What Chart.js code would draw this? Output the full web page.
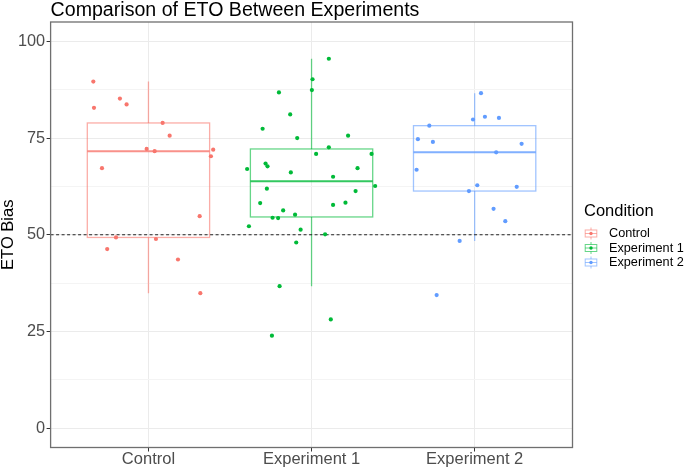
<!DOCTYPE html>
<html><head><meta charset="utf-8">
<script src="https://cdn.jsdelivr.net/npm/chart.js@4.4.0/dist/chart.umd.min.js"></script>
<style>html,body{margin:0;padding:0;background:#fff;}#wrap{width:685px;height:469px;position:relative;}</style>
</head><body><div id="wrap"><canvas id="c" width="685" height="469"></canvas></div>
<script>
// ---- data ----
const categories = ['Control', 'Experiment 1', 'Experiment 2'];
const controlValues = [89.6, 85.2, 83.7, 82.8, 78.9, 75.6, 72.2, 71.6, 72.0, 70.3, 67.2, 54.8, 49.3, 48.9, 46.3, 43.6, 34.9];
const controlJitter = [-0.338, -0.175, -0.134, -0.334, 0.087, 0.130, -0.011, 0.038, 0.397, 0.383, -0.285, 0.314, -0.199, 0.046, -0.253, 0.181, 0.318];
const exp1Values = [95.5, 90.2, 87.4, 86.8, 81.1, 77.4, 75.0, 75.6, 72.6, 70.9, 70.9, 68.4, 67.7, 67.0, 67.2, 66.1, 65.0, 62.6, 61.9, 61.3, 58.2, 58.3, 57.7, 56.3, 55.2, 54.4, 54.3, 52.2, 51.3, 50.1, 48.0, 36.7, 28.1, 23.9];
const exp1Jitter = [0.106, 0.006, 0.002, -0.200, -0.131, -0.300, -0.088, 0.224, 0.106, 0.028, 0.368, -0.282, -0.270, -0.395, 0.282, -0.127, 0.132, 0.390, -0.274, 0.270, -0.315, 0.208, 0.132, -0.174, -0.101, -0.239, -0.205, -0.384, -0.067, 0.083, -0.094, -0.196, 0.118, -0.243];
const exp2Values = [86.6, 80.5, 80.2, 79.8, 78.2, 74.7, 74.0, 73.5, 71.3, 66.8, 62.8, 62.4, 61.3, 56.7, 53.5, 48.4, 34.4];
const exp2Jitter = [0.039, 0.063, 0.149, -0.010, -0.278, -0.348, -0.256, 0.288, 0.132, -0.356, 0.016, 0.258, -0.035, 0.116, 0.188, -0.092, -0.233];
const yTickValues = [0, 25, 50, 75, 100];
const yMinorTickValues = [12.5, 37.5, 62.5, 87.5];
const referenceLine = 50;
const chartTitle = 'Comparison of ETO Between Experiments';
const yAxisTitle = 'ETO Bias';
const legendTitle = 'Condition';

// ---- styles ----
const colors = ['#F8766D', '#00BA38', '#619CFF'];
const boxLine = ['rgba(248,118,109,0.6)', 'rgba(0,186,56,0.6)', 'rgba(97,156,255,0.6)'];
const medLine = ['rgba(248,118,109,0.8)', 'rgba(0,186,56,0.8)', 'rgba(97,156,255,0.8)'];
const FONT = '"Liberation Sans", Arial, sans-serif';

const groups = [controlValues, exp1Values, exp2Values];
const jitters = [controlJitter, exp1Jitter, exp2Jitter];

function quantile(s, p) {
  const h = (s.length - 1) * p, lo = Math.floor(h);
  const hiV = lo + 1 < s.length ? s[lo + 1] : s[lo];
  return s[lo] + (h - lo) * (hiV - s[lo]);
}
function boxStats(vals) {
  const s = [...vals].sort((a, b) => a - b);
  const q1 = quantile(s, 0.25), med = quantile(s, 0.5), q3 = quantile(s, 0.75);
  const iqr = q3 - q1;
  const lo = s.find(v => v >= q1 - 1.5 * iqr);
  const hi = [...s].reverse().find(v => v <= q3 + 1.5 * iqr);
  return { q1, med, q3, lo, hi };
}

const datasets = groups.map((vals, i) => ({
  label: categories[i],
  data: vals.map((v, j) => ({ x: i + jitters[i][j], y: v })),
  backgroundColor: colors[i],
  borderWidth: 0,
  pointRadius: 2.1,
  pointHoverRadius: 2.1
}));

const boxPlugin = {
  id: 'boxes',
  beforeDatasetsDraw(chart) {
    const { ctx, scales: { x, y }, chartArea } = chart;
    ctx.save();
    ctx.beginPath();
    ctx.rect(chartArea.left, chartArea.top, chartArea.width, chartArea.height);
    ctx.clip();
    groups.forEach((vals, i) => {
      const st = boxStats(vals);
      const cx = x.getPixelForValue(i);
      const l = x.getPixelForValue(i - 0.375), r = x.getPixelForValue(i + 0.375);
      const yq1 = y.getPixelForValue(st.q1), yq3 = y.getPixelForValue(st.q3);
      ctx.strokeStyle = boxLine[i];
      ctx.lineWidth = 1.3;
      ctx.beginPath();
      ctx.moveTo(cx, yq3); ctx.lineTo(cx, y.getPixelForValue(st.hi));
      ctx.moveTo(cx, yq1); ctx.lineTo(cx, y.getPixelForValue(st.lo));
      ctx.stroke();
      ctx.strokeRect(l, yq3, r - l, yq1 - yq3);
      ctx.strokeStyle = medLine[i];
      ctx.lineWidth = 2;
      const ym = y.getPixelForValue(st.med);
      ctx.beginPath(); ctx.moveTo(l, ym); ctx.lineTo(r, ym); ctx.stroke();
    });
    // reference line
    const yr = y.getPixelForValue(referenceLine);
    ctx.strokeStyle = '#222';
    ctx.lineWidth = 1;
    ctx.setLineDash([3, 2.5]);
    ctx.beginPath(); ctx.moveTo(chartArea.left, yr); ctx.lineTo(chartArea.right, yr); ctx.stroke();
    ctx.restore();
  },
  afterDraw(chart) {
    const { ctx, chartArea } = chart;
    ctx.save();
    // panel border
    ctx.strokeStyle = '#6f6f6f';
    ctx.lineWidth = 1.3;
    ctx.strokeRect(chartArea.left, chartArea.top, chartArea.width, chartArea.height);
    // title
    ctx.fillStyle = '#000';
    ctx.font = '19.6px ' + FONT;
    ctx.textBaseline = 'alphabetic';
    ctx.textAlign = 'left';
    ctx.fillText(chartTitle, chartArea.left, 16);
    // legend
    ctx.font = '16.5px ' + FONT;
    ctx.textBaseline = 'middle';
    ctx.fillText(legendTitle, 584, 211);
    ctx.font = '12.7px ' + FONT;
    categories.forEach((c, i) => {
      const cy = 233.5 + i * 14.5, cx = 591;
      ctx.strokeStyle = boxLine[i];
      ctx.lineWidth = 1;
      ctx.beginPath();
      ctx.moveTo(cx, cy - 6); ctx.lineTo(cx, cy - 3.5);
      ctx.moveTo(cx, cy + 3.5); ctx.lineTo(cx, cy + 6);
      ctx.stroke();
      ctx.strokeRect(585.2, cy - 3.5, 11.6, 7);
      ctx.beginPath(); ctx.moveTo(585.2, cy); ctx.lineTo(596.8, cy); ctx.stroke();
      ctx.fillStyle = colors[i];
      ctx.beginPath(); ctx.arc(cx, cy, 1.7, 0, Math.PI * 2); ctx.fill();
      ctx.fillStyle = '#000';
      ctx.fillText(c, 609, cy);
    });
    ctx.restore();
  }
};

new Chart(document.getElementById('c'), {
  type: 'scatter',
  data: { datasets },
  options: {
    responsive: false,
    animation: false,
    devicePixelRatio: 1,
    layout: { padding: { top: 22, right: 112.5, left: 0, bottom: 0 } },
    plugins: { legend: { display: false }, tooltip: { enabled: false }, title: { display: false } },
    scales: {
      x: {
        type: 'linear', min: -0.6, max: 2.6,
        afterBuildTicks(axis) { axis.ticks = categories.map((c, i) => ({ value: i })); },
        afterFit(axis) { axis.height = 21.5; },
        ticks: {
          autoSkip: false, maxRotation: 0, padding: 0,
          color: '#4D4D4D', font: { family: FONT, size: 16.5, lineHeight: 1 },
          callback: (v) => categories[v]
        },
        grid: { color: '#EBEBEB', lineWidth: 1, tickColor: '#333', tickLength: 4 },
        border: { display: false }
      },
      y: {
        min: -5, max: 105,
        afterBuildTicks(axis) {
          axis.ticks = [...yTickValues, ...yMinorTickValues].sort((a, b) => a - b).map(v => ({ value: v }));
        },
        afterFit(axis) { axis.width = 50.6; },
        ticks: {
          autoSkip: false, padding: 1.5,
          color: '#4D4D4D', font: { family: FONT, size: 16.3, lineHeight: 1 },
          callback: (v) => yTickValues.includes(v) ? String(v) : ''
        },
        grid: {
          color: (ctx) => yTickValues.includes(ctx.tick.value) ? '#EBEBEB' : '#F4F4F4',
          lineWidth: 1,
          tickColor: (ctx) => yTickValues.includes(ctx.tick.value) ? '#333' : 'rgba(0,0,0,0)',
          tickLength: 4
        },
        border: { display: false },
        title: { display: true, text: yAxisTitle, color: '#000', padding: 0, font: { family: FONT, size: 16.5, lineHeight: 1 } }
      }
    }
  },
  plugins: [boxPlugin]
});
</script>
</body></html>
